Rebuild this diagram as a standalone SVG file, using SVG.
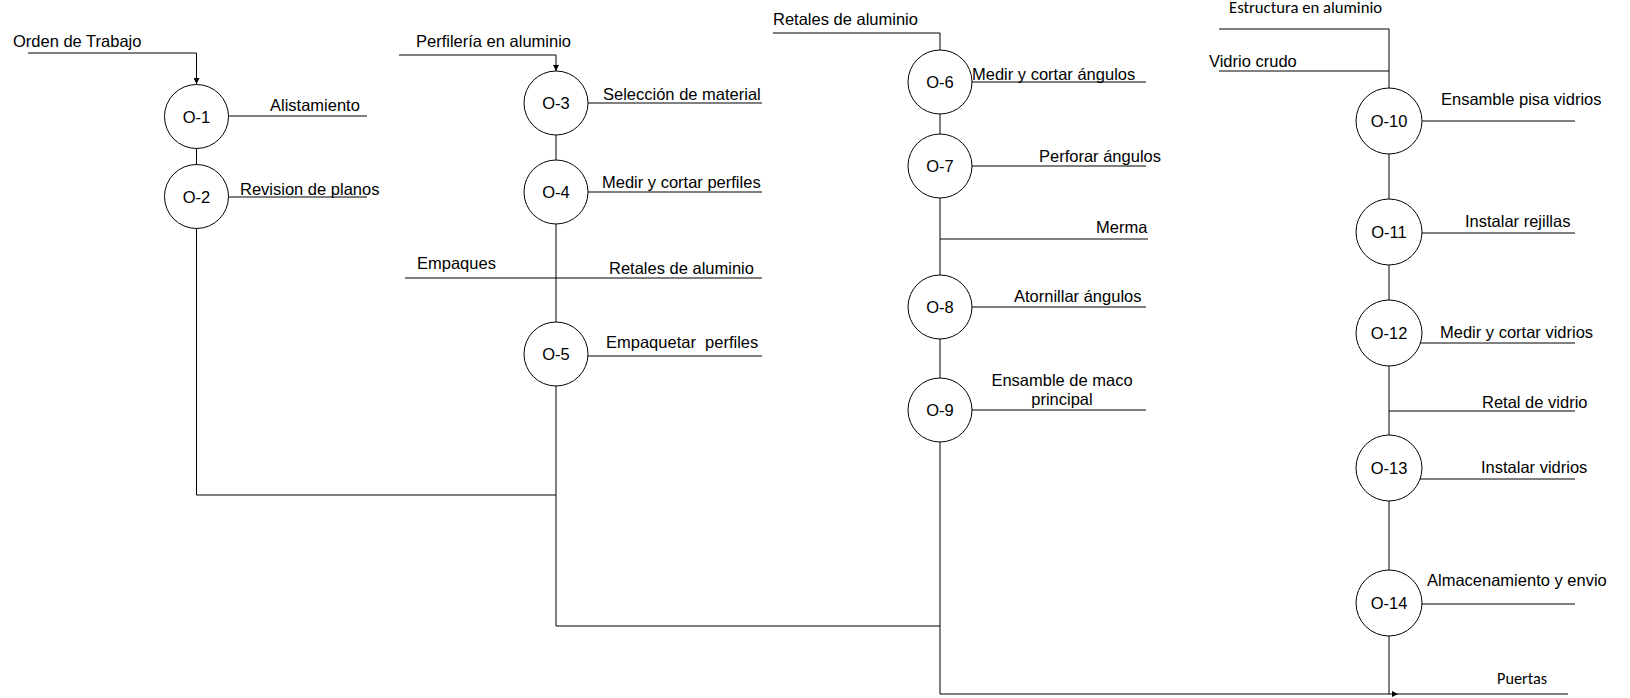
<svg xmlns="http://www.w3.org/2000/svg" width="1630" height="698" viewBox="0 0 1630 698">
<style>
.c{fill:#fff;stroke:#000;stroke-width:1}
.l{fill:none;stroke:#000;stroke-width:1}
.t{font-family:"Liberation Sans",Arial,sans-serif;font-size:16.5px;fill:#000}
.k{font-family:"Carlito",Lato,sans-serif;font-size:16px;fill:#000}
.n{font-family:"Liberation Sans",Arial,sans-serif;font-size:16.5px;fill:#000;text-anchor:middle}
</style>
<defs>
<marker id="ah" viewBox="0 0 10 10" refX="10" refY="5" markerWidth="6" markerHeight="6" markerUnits="userSpaceOnUse" orient="auto">
<path d="M0 0 L10 5 L0 10 Z" fill="#000"/>
</marker>
</defs>
<rect width="1630" height="698" fill="#fff"/>
<g id="connectors">
<path class="l" d="M28 53 H196.5 V84" marker-end="url(#ah)"/>
<path class="l" d="M196.5 148.5 V164.5"/>
<path class="l" d="M196.5 228.5 V495 H556"/>
<path class="l" d="M399 55 H556 V71" marker-end="url(#ah)"/>
<path class="l" d="M556 135 V160"/>
<path class="l" d="M556 224 V322"/>
<path class="l" d="M556 386 V626 H940"/>
<path class="l" d="M773 33 H940 V50"/>
<path class="l" d="M940 114 V134"/>
<path class="l" d="M940 198 V275"/>
<path class="l" d="M940 339 V378"/>
<path class="l" d="M940 442 V694 H1398" marker-end="url(#ah)"/>
<path class="l" d="M1398 694 H1568"/>
<path class="l" d="M1219 29 H1389 V88"/>
<path class="l" d="M1219 71 H1389"/>
<path class="l" d="M1389 154 V199"/>
<path class="l" d="M1389 265 V300"/>
<path class="l" d="M1389 366 V435"/>
<path class="l" d="M1389 501 V570"/>
<path class="l" d="M1389 636 V694"/>
<path class="l" d="M228 116 H367"/>
<path class="l" d="M228 197 H367"/>
<path class="l" d="M588 103 H762"/>
<path class="l" d="M588 192 H762"/>
<path class="l" d="M405 278 H762"/>
<path class="l" d="M588 356 H762"/>
<path class="l" d="M972 82 H1146"/>
<path class="l" d="M972 166 H1146"/>
<path class="l" d="M940 239 H1148"/>
<path class="l" d="M972 307 H1146"/>
<path class="l" d="M972 410 H1146"/>
<path class="l" d="M1421 121 H1575"/>
<path class="l" d="M1421 233 H1575"/>
<path class="l" d="M1420 343 H1575"/>
<path class="l" d="M1389 411 H1575"/>
<path class="l" d="M1420 479 H1575"/>
<path class="l" d="M1421 604 H1575"/>
</g>
<g id="labels">
<text class="t" x="13" y="47">Orden de Trabajo</text>
<text class="t" x="270" y="111">Alistamiento</text>
<text class="t" x="240" y="195">Revision de planos</text>
<text class="t" x="416" y="47">Perfilería en aluminio</text>
<text class="t" x="603" y="100">Selección de material</text>
<text class="t" x="602" y="188">Medir y cortar perfiles</text>
<text class="t" x="417" y="269">Empaques</text>
<text class="t" x="609" y="274">Retales de aluminio</text>
<text class="t" x="606" y="348" xml:space="preserve">Empaquetar  perfiles</text>
<text class="t" x="773" y="25">Retales de aluminio</text>
<text class="t" x="972" y="80">Medir y cortar ángulos</text>
<text class="t" x="1039" y="162">Perforar ángulos</text>
<text class="t" x="1096" y="233">Merma</text>
<text class="t" x="1014" y="302">Atornillar ángulos</text>
<text class="t" x="1062" y="386" text-anchor="middle">Ensamble de maco</text>
<text class="t" x="1062" y="405" text-anchor="middle">principal</text>
<text class="k" x="1229" y="13" textLength="153" lengthAdjust="spacingAndGlyphs">Estructura en aluminio</text>
<text class="t" x="1209" y="67">Vidrio crudo</text>
<text class="t" x="1441" y="105">Ensamble pisa vidrios</text>
<text class="t" x="1465" y="227">Instalar rejillas</text>
<text class="t" x="1440" y="338">Medir y cortar vidrios</text>
<text class="t" x="1482" y="408">Retal de vidrio</text>
<text class="t" x="1481" y="473">Instalar vidrios</text>
<text class="t" x="1427" y="586">Almacenamiento y envio</text>
<text class="k" x="1497" y="684" textLength="50" lengthAdjust="spacingAndGlyphs">Puertas</text>
</g>
<g id="O-1"><circle class="c" cx="196.5" cy="116.5" r="32"/><text class="n" x="196.5" y="122.5">O-1</text></g>
<g id="O-2"><circle class="c" cx="196.5" cy="196.5" r="32"/><text class="n" x="196.5" y="202.5">O-2</text></g>
<g id="O-3"><circle class="c" cx="556" cy="103" r="32"/><text class="n" x="556" y="109">O-3</text></g>
<g id="O-4"><circle class="c" cx="556" cy="192" r="32"/><text class="n" x="556" y="198">O-4</text></g>
<g id="O-5"><circle class="c" cx="556" cy="354" r="32"/><text class="n" x="556" y="360">O-5</text></g>
<g id="O-6"><circle class="c" cx="940" cy="82" r="32"/><text class="n" x="940" y="88">O-6</text></g>
<g id="O-7"><circle class="c" cx="940" cy="166" r="32"/><text class="n" x="940" y="172">O-7</text></g>
<g id="O-8"><circle class="c" cx="940" cy="307" r="32"/><text class="n" x="940" y="313">O-8</text></g>
<g id="O-9"><circle class="c" cx="940" cy="410" r="32"/><text class="n" x="940" y="416">O-9</text></g>
<g id="O-10"><circle class="c" cx="1389" cy="121" r="33"/><text class="n" x="1389" y="127">O-10</text></g>
<g id="O-11"><circle class="c" cx="1389" cy="232" r="33"/><text class="n" x="1389" y="238">O-11</text></g>
<g id="O-12"><circle class="c" cx="1389" cy="333" r="33"/><text class="n" x="1389" y="339">O-12</text></g>
<g id="O-13"><circle class="c" cx="1389" cy="468" r="33"/><text class="n" x="1389" y="474">O-13</text></g>
<g id="O-14"><circle class="c" cx="1389" cy="603" r="33"/><text class="n" x="1389" y="609">O-14</text></g>
</svg>
